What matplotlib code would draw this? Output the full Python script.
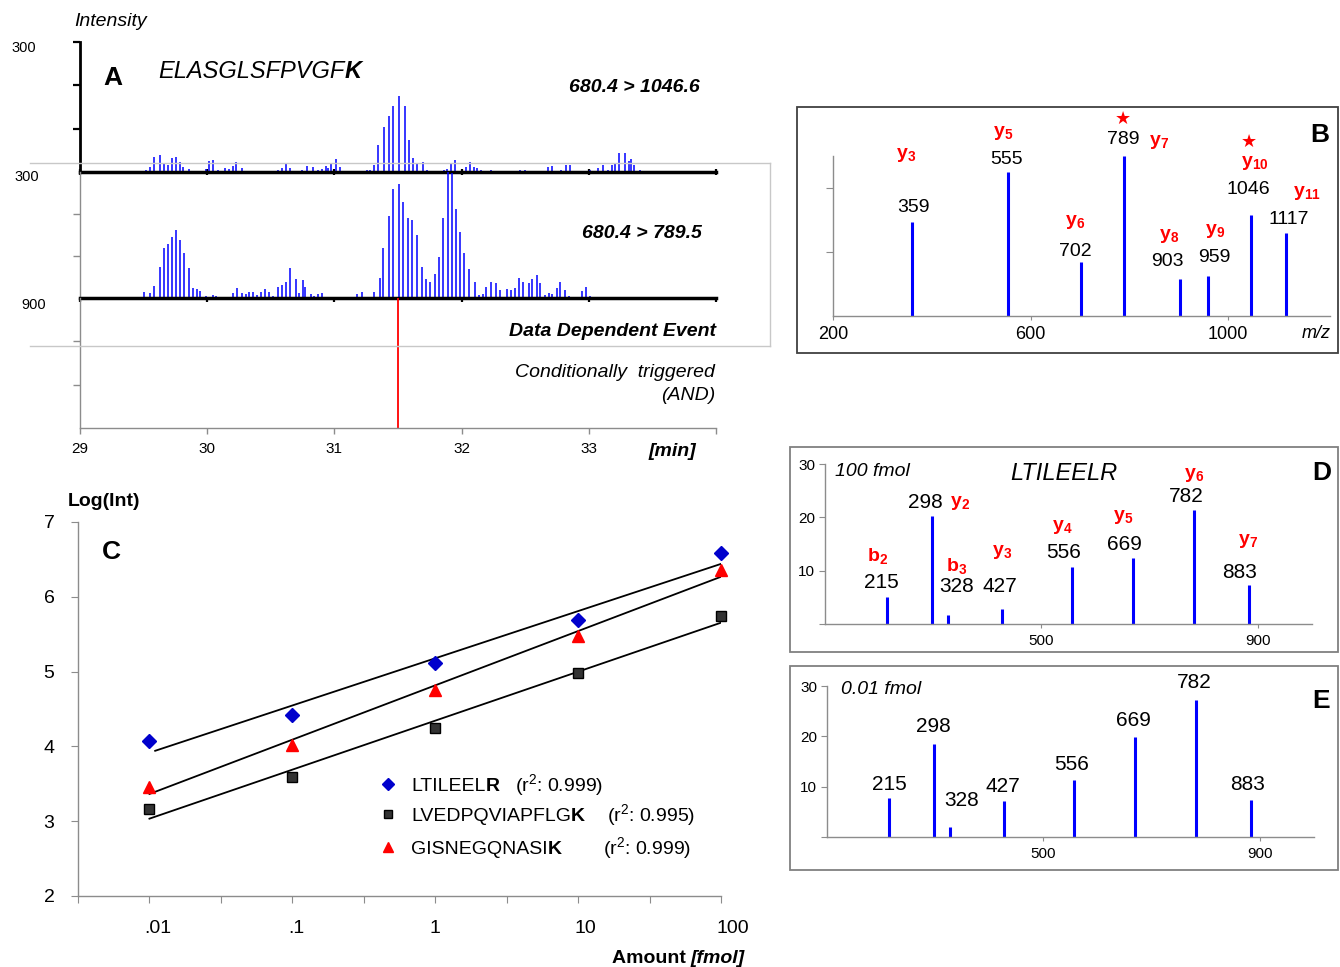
import numpy as np
import matplotlib
matplotlib.use("Agg")
import matplotlib.pyplot as plt
from matplotlib.lines import Line2D
from matplotlib.patches import Rectangle
from matplotlib.transforms import ScaledTranslation

plt.rcParams['font.family'] = ['Liberation Sans', 'DejaVu Sans']
plt.rcParams['mathtext.fontset'] = 'custom'
plt.rcParams['mathtext.rm'] = 'Liberation Sans'
plt.rcParams['mathtext.bf'] = 'Liberation Sans:bold'
plt.rcParams['mathtext.it'] = 'Liberation Sans:italic'

# ---------------- DATA ----------------
# Panel A: SRM chromatograms (time in min, intensity in % of trace height)
a1_time = [29.52, 29.554, 29.585, 29.632, 29.658, 29.689, 29.72, 29.752, 29.783, 29.809,
           29.856, 29.90, 29.947, 29.992, 30.018, 30.049, 30.081, 30.143, 30.169, 30.20,
           30.227, 30.274, 30.33, 30.41, 30.49, 30.556, 30.587, 30.619, 30.65, 30.749,
           30.785, 30.832, 30.874, 30.901, 30.937, 30.952, 30.973, 31.015, 31.042, 31.11,
           31.19, 31.255, 31.281, 31.312, 31.344, 31.391, 31.433, 31.464, 31.511, 31.558,
           31.59, 31.621, 31.652, 31.694, 31.725, 31.79, 31.858, 31.884, 31.915, 31.947,
           32.036, 32.067, 32.099, 32.124, 32.156, 32.234, 32.33, 32.39, 32.459, 32.50,
           32.56, 32.63, 32.683, 32.714, 32.782, 32.819, 32.85, 32.92, 32.98, 33.012,
           33.074, 33.111, 33.148, 33.179, 33.205, 33.236, 33.283, 33.315, 33.33, 33.356,
           33.403]
a1_int = [1.3, 3.6, 11.9, 12.9, 6.7, 5.7, 11.1, 11.9, 7.5, 3.9,
          2.1, 0.5, 0.5, 2.1, 8.3, 9.3, 1.3, 2.9, 2.1, 4.7,
          7.5, 2.9, 0.5, 0.5, 0.5, 1.3, 2.9, 6.4, 2.9, 1.3,
          4.9, 3.9, 1.6, 2.1, 4.9, 3.1, 6.7, 10.1, 3.9, 0.5,
          0.5, 1.3, 1.6, 5.4, 20.4, 34.9, 42.9, 50.9, 58.1, 50.9,
          25.0, 11.1, 6.4, 7.5, 1.8, 0.5, 1.3, 2.1, 6.2, 9.3,
          3.6, 7.5, 3.9, 2.9, 1.3, 1.3, 0.5, 0.5, 1.3, 1.3,
          0.5, 0.5, 3.9, 4.9, 1.3, 5.7, 5.7, 0.5, 1.0, 1.3,
          3.1, 5.7, 1.3, 5.2, 6.4, 15.0, 15.0, 8.3, 10.1, 5.7,
          1.3]
a2_time = [29.507, 29.554, 29.585, 29.626, 29.658, 29.689, 29.72, 29.752, 29.783, 29.814,
           29.856, 29.887, 29.919, 29.945, 29.987, 30.018, 30.049, 30.07, 30.11, 30.14,
           30.17, 30.20, 30.232, 30.274, 30.305, 30.331, 30.363, 30.394, 30.425, 30.451,
           30.482, 30.514, 30.556, 30.587, 30.619, 30.65, 30.697, 30.723, 30.754, 30.77,
           30.817, 30.843, 30.874, 30.905, 30.96, 31.02, 31.08, 31.15, 31.177, 31.218,
           31.265, 31.308, 31.355, 31.386, 31.433, 31.464, 31.506, 31.537, 31.579, 31.61,
           31.652, 31.688, 31.72, 31.749, 31.79, 31.821, 31.853, 31.89, 31.926, 31.958,
           31.984, 32.02, 32.062, 32.109, 32.14, 32.166, 32.193, 32.229, 32.271, 32.302,
           32.354, 32.385, 32.422, 32.453, 32.485, 32.526, 32.553, 32.589, 32.615, 32.657,
           32.688, 32.714, 32.751, 32.777, 32.814, 32.845, 32.876, 32.944, 32.976, 33.007,
           33.05, 33.10, 33.14, 33.19, 33.24, 33.28, 33.33, 33.38]
a2_int = [5.0, 4.2, 9.5, 24.6, 39.4, 43.1, 48.7, 54.0, 45.8, 35.5,
          23.6, 7.9, 6.9, 5.8, 1.8, 1.0, 2.1, 1.8, 0.8, 0.8,
          0.8, 4.2, 7.9, 4.2, 3.2, 5.0, 4.5, 2.6, 4.8, 6.9,
          5.0, 1.8, 8.7, 10.6, 12.9, 23.6, 15.1, 4.2, 14.3, 9.0,
          3.2, 1.8, 2.9, 3.7, 0.8, 0.8, 0.8, 0.8, 3.2, 4.5,
          1.0, 5.0, 16.1, 39.4, 65.3, 86.5, 90.2, 76.2, 63.7, 61.9,
          50.0, 24.6, 14.8, 12.5, 19.0, 32.8, 63.5, 100, 99.2, 70.6,
          52.4, 35.5, 22.8, 12.5, 2.1, 3.2, 8.7, 12.5, 11.7, 6.1,
          7.1, 6.1, 7.9, 16.1, 12.5, 11.7, 15.1, 18.3, 11.7, 2.1,
          4.2, 3.4, 7.9, 12.5, 6.1, 1.8, 1.0, 5.8, 9.0, 1.6,
          0.8, 0.8, 0.8, 0.8, 0.8, 0.8, 0.8, 0.8]
trigger_time = 31.5
a_min_ticks = [29, 30, 31, 32, 33, 34]
a_min_labels = ['29', '30', '31', '32', '33', '']

# Panel B: MS/MS spectrum
b_mz = [359, 555, 702, 789, 903, 959, 1046, 1117]
b_int = [59, 90, 33.5, 100, 23, 25, 63, 52]
b_ion = ['3', '5', '6', '7', '8', '9', '10', '11']
b_star = [789, 1046]
b_xticks = [200, 600, 1000]

# Panel C: calibration curves
amounts = [0.01, 0.1, 1, 10, 100]
c_ltileelr = [4.07, 4.42, 5.12, 5.69, 6.59]
c_lvedp = [3.16, 3.59, 4.25, 4.98, 5.74]
c_gisne = [3.46, 4.02, 4.76, 5.48, 6.36]
c_r2 = ['0.999', '0.995', '0.999']
c_xlabels = ['.01', '.1', '1', '10', '100']

# Panels D / E: LTILEELR spectra
de_mz = [215, 298, 328, 427, 556, 669, 782, 883]
d_int = [5.1, 20.2, 1.7, 2.9, 10.7, 12.4, 21.3, 7.4]
e_int = [7.8, 18.5, 2.0, 7.2, 11.4, 19.8, 27.3, 7.3]
d_ion = [('b', '2'), ('y', '2'), ('b', '3'), ('y', '3'), ('y', '4'), ('y', '5'), ('y', '6'), ('y', '7')]

# ---------------- FIGURE ----------------
W, H = 1340, 967
fig = plt.figure(figsize=(W / 100, H / 100), dpi=100)
renderer = fig.canvas.get_renderer()
GRAY = '#8c8c8c'
BLUE = '#0000FF'


def add_ax(x0, y0, x1, y1):
    ax = fig.add_axes([x0 / W, 1 - y1 / H, (x1 - x0) / W, (y1 - y0) / H])
    ax.set_facecolor('none')
    for s in ['top', 'right']:
        ax.spines[s].set_visible(False)
    return ax


def T(x, y, s, ha='center', va='center', **kw):
    return fig.text(x / W, 1 - y / H, s, ha=ha, va=va, **kw)


def rich(x, y, parts, ha='left', size=14, color='black'):
    objs = []
    cur = x
    for s, style in parts:
        kw = dict(size=size, color=color, va='baseline', ha='left')
        kw.update(style)
        t = fig.text(cur / W, 1 - y / H, s, **kw)
        bb = t.get_window_extent(renderer=renderer)
        objs.append((t, cur))
        cur += bb.width
    total = cur - x
    shift = {'left': 0, 'right': -total, 'center': -total / 2}[ha]
    for t, cx in objs:
        t.set_x((cx + shift) / W)


def fline(xs, ys, **kw):
    fig.add_artist(Line2D([x / W for x in xs], [1 - y / H for y in ys],
                          transform=fig.transFigure, **kw))


def ion(x, y, letter, num, size=14):
    T(x, y, r'$\mathbf{%s}_{\mathbf{%s}}$' % (letter, num), size=size, color='red')


IT = dict(style='italic')
BI = dict(style='italic', weight='bold')
BD = dict(weight='bold')

# ---------------- PANEL A ----------------
fline([30, 770], [163, 163], color='#c8c8c8', lw=1)
fline([30, 770], [346, 346], color='#c8c8c8', lw=1)
fline([770, 770], [163, 346], color='#c8c8c8', lw=1)

axA1 = add_ax(80, 42, 716, 172)
axA1.set_xlim(29, 34); axA1.set_ylim(0, 100)
axA1.vlines(a1_time, 0, a1_int, colors=BLUE, lw=1.1)
axA1.spines['left'].set_linewidth(2); axA1.spines['left'].set_color('black')
axA1.spines['bottom'].set_linewidth(2.5)
axA1.set_yticks([33.3, 66.7, 100]); axA1.set_yticklabels([])
axA1.set_xticks(a_min_ticks); axA1.set_xticklabels([])
axA1.tick_params(axis='y', direction='out', length=5, width=1.6)
axA1.tick_params(axis='x', direction='inout', length=5, width=1.6)

axA2 = add_ax(80, 172, 716, 298)
axA2.set_xlim(29, 34); axA2.set_ylim(0, 100)
axA2.vlines(a2_time, 0, a2_int, colors=BLUE, lw=1.1)
axA2.spines['left'].set_color(GRAY); axA2.spines['left'].set_linewidth(1)
axA2.spines['bottom'].set_linewidth(2.5)
axA2.set_yticks([33.3, 66.7]); axA2.set_yticklabels([])
axA2.set_xticks(a_min_ticks); axA2.set_xticklabels([])
axA2.tick_params(axis='y', direction='out', length=5, width=1, color=GRAY)
axA2.tick_params(axis='x', direction='out', length=3, width=1.6)

axA3 = add_ax(80, 298, 716, 428)
axA3.set_xlim(29, 34); axA3.set_ylim(0, 1)
axA3.vlines([trigger_time], 0, 1, colors='red', lw=1.3)
for s in ['left', 'bottom']:
    axA3.spines[s].set_color(GRAY); axA3.spines[s].set_linewidth(1)
axA3.set_yticks([1 / 3, 2 / 3]); axA3.set_yticklabels([])
axA3.set_xticks(a_min_ticks); axA3.set_xticklabels(a_min_labels, size=11)
axA3.tick_params(axis='y', direction='out', length=5, width=1, color=GRAY)
axA3.tick_params(axis='x', direction='out', length=4, width=1, color=GRAY, pad=6)

T(111, 22, 'Intensity', size=14, **IT)
T(24, 48, '300', size=10.5)
T(27, 177, '300', size=10.5)
T(34, 305, '900', size=10.5)
T(113, 78, 'A', size=19, weight='bold')
rich(158, 78, [('ELASGLSFPVGF', IT), ('K', BI)], size=17)
T(700, 88, '680.4 > 1046.6', ha='right', size=14, **BI)
T(702, 233, '680.4 > 789.5', ha='right', size=14, **BI)
T(716, 332, 'Data Dependent Event', ha='right', size=14, **BI)
T(715, 372, 'Conditionally  triggered', ha='right', size=14, **IT)
T(715, 396, '(AND)', ha='right', size=14, **IT)
T(672, 451, '[min]', size=14, **BI)

# ---------------- PANEL B ----------------
fig.add_artist(Rectangle((797 / W, 1 - 353 / H), (1338 - 797) / W, (353 - 107) / H,
                         transform=fig.transFigure, fill=False, ec='#404040', lw=1.3))
axB = add_ax(833, 156, 1330, 316)
axB.set_xlim(200, 1206); axB.set_ylim(0, 100)
axB.vlines(b_mz, 0, b_int, colors=BLUE, lw=2.2)
for s in ['left', 'bottom']:
    axB.spines[s].set_color(GRAY); axB.spines[s].set_linewidth(1)
axB.set_yticks([40, 80]); axB.set_yticklabels([])
axB.set_xticks(b_xticks); axB.set_xticklabels([str(v) for v in b_xticks], size=13)
axB.tick_params(axis='y', direction='out', length=5, color=GRAY)
axB.tick_params(axis='x', direction='out', length=3, color=GRAY, pad=4)
T(1316, 333, 'm/z', size=13, **IT)
T(1320, 135, 'B', size=19, weight='bold')
b_num_pos = [(913, 207), (1007, 160), (1075, 252), (1123, 140), (1167, 261),
             (1214, 258), (1248, 190), (1289, 220)]
b_ion_pos = [(906, 155), (1003, 133), (1075, 222), (1159, 142), (1169, 236),
             (1215, 231), (1255, 163), (1307, 193)]
for mz, (x, y) in zip(b_mz, b_num_pos):
    T(x, y, str(mz), size=14)
for lab, (x, y) in zip(b_ion, b_ion_pos):
    ion(x, y, 'y', lab)
for (x, y) in [(1123, 119), (1249, 142)]:
    T(x, y, '★', size=13, color='red', family=['DejaVu Sans'])

# ---------------- PANEL C ----------------
axC = add_ax(78, 522, 721, 896)
axC.set_xscale('log')
axC.set_xlim(10 ** -2.5, 100); axC.set_ylim(2, 7)
series = [(c_ltileelr, 'D', '#0000CC', '#0000CC', 7.5, 10 ** -1.96),
          (c_lvedp, 's', '#333333', 'black', 7.5, 0.01),
          (c_gisne, '^', 'red', 'red', 8.5, 0.01)]
for vals, mk, fc, ec, ms, x0 in series:
    k, b = np.polyfit(np.log10(amounts), vals, 1)
    xs = np.array([x0, max(amounts)])
    axC.plot(xs, k * np.log10(xs) + b, color='black', lw=1.3, zorder=2)
    axC.plot(amounts, vals, ls='none', marker=mk, mfc=fc, mec=ec,
             ms=ms, zorder=3, clip_on=False)
for s in ['left', 'bottom']:
    axC.spines[s].set_color(GRAY); axC.spines[s].set_linewidth(1)
axC.minorticks_off()
xt = 10 ** np.arange(-2.5, 2.01, 0.5)
axC.set_xticks(xt)
labs = []
it = iter(c_xlabels)
for e in np.arange(-2.5, 2.01, 0.5):
    labs.append(next(it) if abs(e - round(e)) < 1e-9 else '')
axC.set_xticklabels(labs, size=14)
axC.set_yticks([2, 3, 4, 5, 6, 7])
axC.set_yticklabels(['2', '3', '4', '5', '6', '7'], size=14)
axC.tick_params(axis='both', direction='out', length=5, color=GRAY, pad=12)
offs = {'.01': 8, '.1': 4, '1': 0, '10': 7, '100': 12}
for lbl in axC.get_xticklabels():
    dx = offs.get(lbl.get_text(), 0)
    lbl.set_transform(lbl.get_transform() + ScaledTranslation(dx / 100, 0, fig.dpi_scale_trans))
T(104, 501, 'Log(Int)', size=14, weight='bold')
T(111, 552, 'C', size=19, weight='bold')
rich(745, 963, [('Amount ', BD), ('[fmol]', BI)], ha='right', size=14)

# legend
leg_rows = [(784, 'D', '#0000CC', '#0000CC', 6, 'LTILEEL', 'R', 515),
            (814, 's', '#333333', 'black', 6, 'LVEDPQVIAPFLG', 'K', 607),
            (847, '^', 'red', 'red', 7, 'GISNEGQNASI', 'K', 603)]
for (y, mk, fc, ec, ms, pep, last, rx), r2 in zip(leg_rows, c_r2):
    fig.add_artist(Line2D([388 / W], [1 - y / H], marker=mk, mfc=fc, mec=ec, ms=ms,
                          ls='none', transform=fig.transFigure))
    rich(411, y + 7, [(pep, {}), (last, BD)], size=14)
    rich(rx, y + 7, [(r'(r$^{\mathrm{2}}$: ' + r2 + ')', {})], size=14)

# ---------------- PANELS D, E ----------------
def spec_panel(box, axbox, ints):
    bx0, by0, bx1, by1 = box
    fig.add_artist(Rectangle((bx0 / W, 1 - by1 / H), (bx1 - bx0) / W, (by1 - by0) / H,
                             transform=fig.transFigure, fill=False, ec='#808080', lw=1.3))
    ax = add_ax(*axbox)
    ax.set_xlim(100, 1000); ax.set_ylim(0, 30)
    ax.vlines(de_mz, 0, ints, colors=BLUE, lw=2.2)
    for s in ['left', 'bottom']:
        ax.spines[s].set_color(GRAY); ax.spines[s].set_linewidth(1)
    ax.set_yticks([0, 10, 20, 30]); ax.set_yticklabels(['', '10', '20', '30'], size=11)
    ax.set_xticks([500, 900]); ax.set_xticklabels(['500', '900'], size=11)
    ax.tick_params(axis='y', direction='out', length=4, color=GRAY, pad=3)
    ax.tick_params(axis='x', direction='out', length=3, color=GRAY, pad=4)
    return ax


axD = spec_panel((790, 447, 1338, 652), (825, 464, 1312, 624), d_int)
axE = spec_panel((790, 666, 1338, 870), (827, 686, 1314, 837), e_int)

T(872, 471, '100 fmol', size=14, **IT)
T(1064, 474, 'LTILEELR', size=17, **IT)
T(1322, 473, 'D', size=19, weight='bold')
d_num_pos = [(881, 583), (925, 502), (957, 587), (1000, 587), (1064, 553),
             (1124, 545), (1186, 497), (1240, 572)]
d_ion_pos = [(878, 556), (960, 503), (957, 566), (1002, 552), (1062, 527),
             (1123, 517), (1194, 475), (1248, 541)]
for mz, (x, y) in zip(de_mz, d_num_pos):
    T(x, y, str(mz), size=15)
for (lt, n), (x, y) in zip(d_ion, d_ion_pos):
    ion(x, y, lt, n)

T(881, 690, '0.01 fmol', size=14, **IT)
T(1321, 701, 'E', size=19, weight='bold')
e_num_pos = [(889, 784), (933, 727), (962, 800), (1003, 786), (1072, 764),
             (1133, 721), (1194, 682), (1248, 784)]
for mz, (x, y) in zip(de_mz, e_num_pos):
    T(x, y, str(mz), size=15)

fig.savefig('out.png', dpi=100)
